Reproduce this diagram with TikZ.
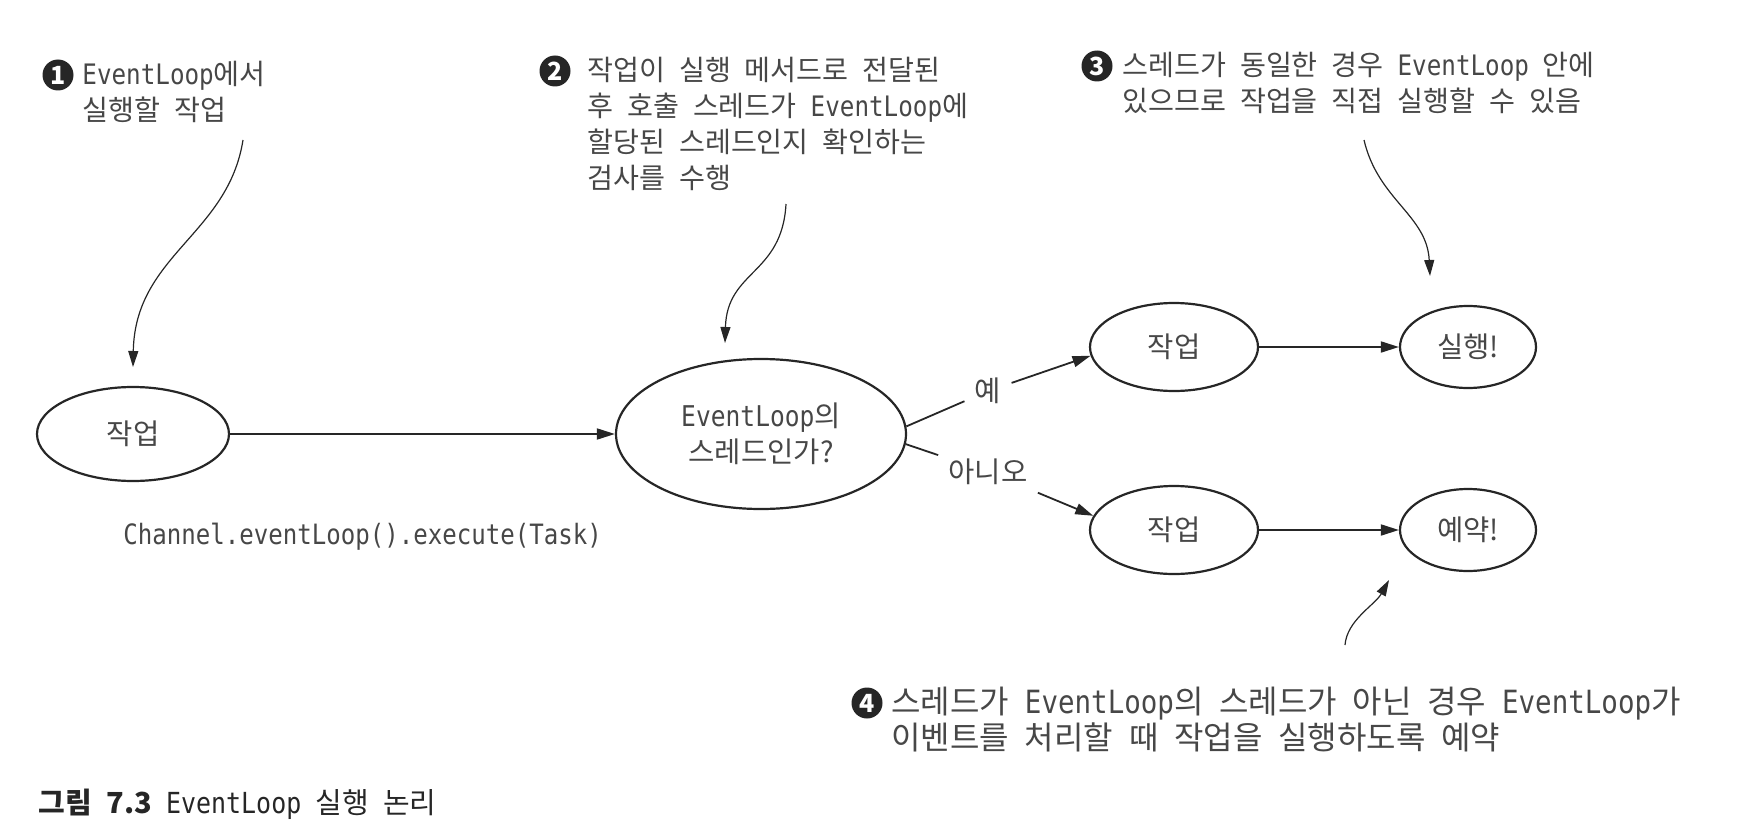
\documentclass[tikz,border=0pt]{standalone}
\usepackage{fontspec}
\setmainfont{Noto Sans CJK KR}[WordSpace=2.2]
\newfontfamily\monofont{DejaVu Sans Mono}[FakeStretch=0.86]
\usetikzlibrary{arrows.meta,shapes.geometric}
\newcommand\evl{{\monofont EventLoop}}
\definecolor{ink}{gray}{0.15}
\definecolor{txt}{gray}{0.28}
\tikzset{
 ell/.style={ellipse, draw=ink, line width=1.1pt, inner sep=0pt, text=txt, font=\fontsize{14.3}{18}\selectfont, align=center},
 flow/.style={draw=ink, line width=0.9pt, -{Triangle[length=9pt,width=5.5pt]}},
 plainline/.style={draw=ink, line width=0.9pt},
 note/.style={anchor=west, align=left, inner sep=0pt, text=txt, font=\fontsize{14.1}{18}\selectfont},
 callout/.style={draw=ink, line width=0.6pt, -{Triangle[length=8pt,width=5pt]}},
 badge/.style={circle, fill=ink, text=white, inner sep=0pt, minimum size=15.5pt, font=\bfseries\fontsize{12.5}{12.5}\selectfont},
 lbl/.style={inner sep=5pt, text=txt, font=\fontsize{14.3}{18}\selectfont},
}
\begin{document}
\begin{tikzpicture}[x=0.5pt,y=-0.5pt]
\useasboundingbox (0,0) rectangle (1750,840);
% main nodes
\node[ell, minimum width=96pt, minimum height=47pt] (A) at (133,434) {작업};
\node[ell, minimum width=145pt, minimum height=75pt] (B) at (761,434) {\evl 의\\스레드인가?};
\node[ell, minimum width=84pt, minimum height=44pt] (C1) at (1174,347) {작업};
\node[ell, minimum width=68pt, minimum height=41pt] (D1) at (1468,347) {실행!};
\node[ell, minimum width=84pt, minimum height=44pt] (C2) at (1174,530) {작업};
\node[ell, minimum width=68pt, minimum height=41pt] (D2) at (1468,530) {예약!};
\node[lbl] (yes) at (988,391) {예};
\node[lbl] (no) at (988,472) {아니오};
% connectors
\draw[flow] (A) -- (B);
\draw[plainline] (B.3) -- (yes);
\draw[flow] (yes) -- (C1.186);
\draw[plainline] (B.-4) -- (no);
\draw[flow] (no) -- (C2.170);
\draw[flow] (C1) -- (D1);
\draw[flow] (C2) -- (D2);
% code label
\node[anchor=west, inner sep=0pt, text=txt, font=\monofont\fontsize{14}{14}\selectfont] (code) at (123,537) {Channel.eventLoop().execute(Task)};
% notes
\node[badge] (b1) at (58,75) {1};
\node[note] (n1) at (82,92) {\evl 에서\\실행할 작업};
\node[badge] (b2) at (555,71) {2};
\node[note] (n2) at (587,124) {작업이 실행 메서드로 전달된\\후 호출 스레드가 \evl 에\\할당된 스레드인지 확인하는\\검사를 수행};
\node[badge] (b3) at (1097,66) {3};
\node[note] (n3) at (1122,83) {스레드가 동일한 경우 \evl\ 안에\\있으므로 작업을 직접 실행할 수 있음};
\node[badge] (b4) at (867,703) {4};
\node[note, font=\fontsize{16}{18}\selectfont] (n4) at (891,720) {스레드가 \evl 의 스레드가 아닌 경우 \evl 가\\이벤트를 처리할 때 작업을 실행하도록 예약};
% callouts
\coordinate (s1) at (243,140); \coordinate (t1) at (133,367);
\draw[callout] (s1) .. controls (228,235) and (135,255) .. (t1);
\coordinate (s2) at (786,204); \coordinate (t2) at (725,343);
\draw[callout] (s2) .. controls (782,275) and (727,270) .. (t2);
\coordinate (s3) at (1364,140); \coordinate (t3) at (1430,276);
\draw[callout] (s3) .. controls (1378,200) and (1427,215) .. (t3);
\coordinate (s4) at (1345,645); \coordinate (t4) at (1389,580);
\draw[callout] (s4) .. controls (1347,620) and (1375,605) .. (t4);
% caption
\node[anchor=west, inner sep=0pt, text=black!85, font=\fontsize{14.5}{15}\selectfont] (cap) at (38,804) {\textbf{그림 7.3} \evl\ 실행 논리};
\end{tikzpicture}
\end{document}
